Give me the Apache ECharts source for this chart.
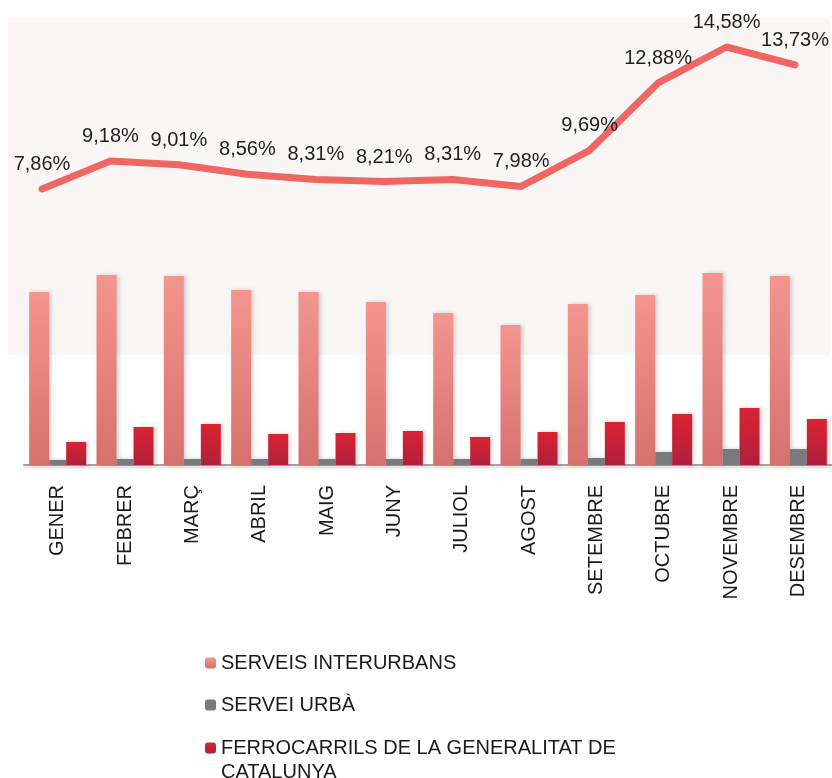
<!DOCTYPE html>
<html>
<head>
<meta charset="utf-8">
<script src="https://cdn.jsdelivr.net/npm/echarts@6/dist/echarts.min.js"></script>
<style>
html,body{margin:0;padding:0;background:#fff;}
#chart{width:832px;height:778px;}
</style>
</head>
<body>
<div id="chart"></div>
<script>
var months = ['GENER','FEBRER','MARÇ','ABRIL','MAIG','JUNY','JULIOL','AGOST','SETEMBRE','OCTUBRE','NOVEMBRE','DESEMBRE'];
var interurbans = [173, 190, 189, 175, 173, 163, 152, 140, 161, 170, 192, 189];
var urba = [5, 6, 6, 6, 6, 6, 6, 6, 7, 13, 16, 16];
var ferrocarrils = [23, 38, 41, 31, 32, 34, 28, 33, 43, 51, 57, 46];
var percentatge = [7.86, 9.18, 9.01, 8.56, 8.31, 8.21, 8.31, 7.98, 9.69, 12.88, 14.58, 13.73];
var seriesNames = ['SERVEIS INTERURBANS', 'SERVEI URBÀ', 'FERROCARRILS DE LA GENERALITAT DE\nCATALUNYA'];

var FONT = '"Liberation Sans", Arial, Helvetica, sans-serif';
var shadow = {shadowColor: 'rgba(0,0,0,0.18)', shadowBlur: 4, shadowOffsetX: 2, shadowOffsetY: 0};
function grad(top, bottom) {
  return new echarts.graphic.LinearGradient(0, 0, 0, 1, [{offset: 0, color: top}, {offset: 1, color: bottom}]);
}

var chart = echarts.init(document.getElementById('chart'), null, {renderer: 'canvas'});
var legendBase = {
  orient: 'vertical', left: 205, padding: 0, itemWidth: 11, itemHeight: 11, itemGap: 10,
  selectedMode: false,
  textStyle: {fontFamily: FONT, fontSize: 20, color: '#1a1a1a', lineHeight: 24}
};
var option = {
  backgroundColor: '#ffffff',
  animation: false,
  graphic: [{
    type: 'rect', left: 8, top: 18, z: -10, silent: true,
    shape: {width: 822, height: 337},
    style: {fill: '#FAF6F5'}
  }],
  legend: [
    Object.assign({}, legendBase, {top: 651, data: [seriesNames[0]]}),
    Object.assign({}, legendBase, {top: 693, data: [seriesNames[1]]}),
    Object.assign({}, legendBase, {top: 712, data: [seriesNames[2]],
      formatter: function (name) { return ' \n' + name; }})
  ],
  grid: [
    {left: 24, right: 0, top: 18, bottom: 313},
    {left: 42, right: 37, top: 17, height: 338}
  ],
  xAxis: [
    {
      type: 'category', gridIndex: 0, data: months,
      axisLine: {lineStyle: {color: '#A3A3A6', width: 2, shadowColor: 'rgba(0,0,0,0.15)', shadowBlur: 3, shadowOffsetY: 2}},
      axisTick: {show: false},
      axisLabel: {rotate: 90, interval: 0, margin: 20, fontFamily: FONT, fontSize: 20, color: '#1a1a1a'}
    },
    {type: 'category', gridIndex: 1, data: months, boundaryGap: false, show: false}
  ],
  yAxis: [
    {type: 'value', gridIndex: 0, min: 0, max: 447, show: false, splitLine: {show: false}},
    {type: 'value', gridIndex: 1, min: 0, max: 16, show: false, splitLine: {show: false}}
  ],
  series: [
    {
      name: seriesNames[0], type: 'bar', xAxisIndex: 0, yAxisIndex: 0, data: interurbans,
      barWidth: 20, barGap: '0%',
      itemStyle: Object.assign({color: grad('#F5958F', '#D6716E')}, shadow)
    },
    {
      name: seriesNames[1], type: 'bar', xAxisIndex: 0, yAxisIndex: 0, data: urba,
      barWidth: 17, barGap: '0%',
      itemStyle: Object.assign({color: '#7A7A7E'}, shadow)
    },
    {
      name: seriesNames[2], type: 'bar', xAxisIndex: 0, yAxisIndex: 0, data: ferrocarrils,
      barWidth: 20, barGap: '0%',
      itemStyle: Object.assign({color: grad('#DA2331', '#B01F3C')}, shadow)
    },
    {
      name: 'percentatge', type: 'line', xAxisIndex: 1, yAxisIndex: 1, data: percentatge,
      symbol: 'circle', symbolSize: 1, showSymbol: true, z: 5,
      itemStyle: {color: '#EF6662'},
      lineStyle: {color: '#EF6662', width: 7, cap: 'round', join: 'round'},
      label: {
        show: true, position: 'top', distance: 14,
        fontFamily: FONT, fontSize: 20, color: '#1f1f1f',
        formatter: function (p) { return p.value.toFixed(2).replace('.', ',') + '%'; }
      },
      labelLayout: {hideOverlap: false}
    }
  ]
};
chart.setOption(option);
</script>
</body>
</html>
